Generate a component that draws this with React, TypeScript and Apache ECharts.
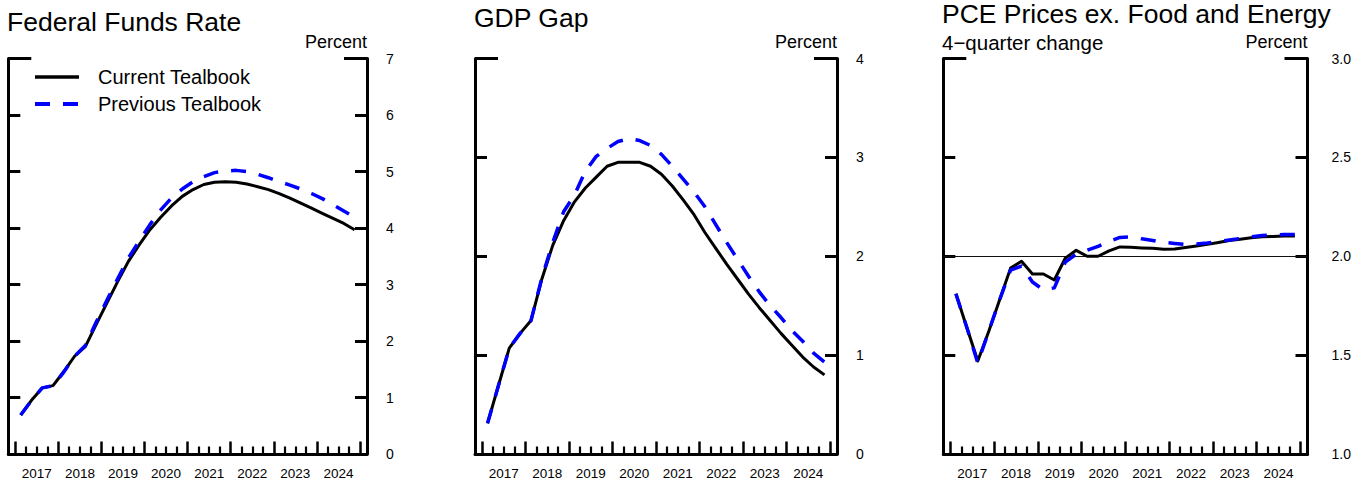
import { useEffect, useRef } from "react";
import * as echarts from "echarts";

// ---------- data ----------
const years = [2017, 2018, 2019, 2020, 2021, 2022, 2023, 2024];
const quarterLabels = years.flatMap((y) => ["Q1", "Q2", "Q3", "Q4"].map((q) => `${y}${q}`));

const ffrCurrent = [0.69, 0.95, 1.17, 1.21, 1.46, 1.73, 1.9, 2.29, 2.67, 3.05, 3.41, 3.7, 3.97, 4.19, 4.39, 4.56, 4.68, 4.77, 4.81, 4.82, 4.81, 4.78, 4.73, 4.68, 4.61, 4.53, 4.44, 4.35, 4.26, 4.17, 4.08, 3.97];
const ffrPrevious = [0.69, 0.95, 1.17, 1.21, 1.45, 1.73, 1.92, 2.33, 2.72, 3.1, 3.47, 3.77, 4.06, 4.32, 4.53, 4.69, 4.82, 4.91, 4.98, 5.01, 5.02, 5.0, 4.95, 4.89, 4.82, 4.76, 4.69, 4.61, 4.52, 4.41, 4.3, 4.19];

const gapCurrent = [0.31, 0.69, 1.07, 1.22, 1.35, 1.77, 2.11, 2.36, 2.55, 2.69, 2.8, 2.91, 2.95, 2.95, 2.95, 2.91, 2.83, 2.71, 2.57, 2.42, 2.24, 2.08, 1.92, 1.77, 1.62, 1.48, 1.35, 1.22, 1.1, 0.98, 0.88, 0.8];
const gapPrevious = [0.31, 0.69, 1.07, 1.22, 1.35, 1.78, 2.14, 2.45, 2.62, 2.86, 3.01, 3.09, 3.16, 3.19, 3.17, 3.12, 3.03, 2.91, 2.78, 2.65, 2.5, 2.32, 2.14, 1.97, 1.8, 1.64, 1.5, 1.38, 1.25, 1.14, 1.02, 0.93];

const pceCurrent = [1.81, 1.64, 1.47, 1.62, 1.78, 1.94, 1.975, 1.91, 1.91, 1.88, 1.99, 2.03, 2.0, 2.0, 2.027, 2.047, 2.045, 2.042, 2.04, 2.035, 2.037, 2.044, 2.052, 2.06, 2.07, 2.08, 2.086, 2.093, 2.098, 2.1, 2.103, 2.103];
const pcePrevious = [1.81, 1.64, 1.46, 1.62, 1.78, 1.93, 1.95, 1.87, 1.83, 1.84, 1.97, 2.01, 2.03, 2.05, 2.075, 2.095, 2.098, 2.088, 2.08, 2.07, 2.065, 2.06, 2.062, 2.067, 2.075, 2.082, 2.09, 2.098, 2.105, 2.108, 2.11, 2.11];

const pceReference = 2.0;

const titles = ["Federal Funds Rate", "GDP Gap", "PCE Prices ex. Food and Energy"];
const seriesNames = ["Current Tealbook", "Previous Tealbook"];

// ---------- helpers ----------
const FONT = "'Liberation Sans', Arial, Helvetica, sans-serif";
const quarterX = (label: string) => Number(label.slice(0, 4)) + (Number(label.slice(5)) - 0.5) / 4;
const toPairs = (vals: number[]) => quarterLabels.map((l, i) => [quarterX(l), vals[i]]);

const yearTicks = [...years, years[years.length - 1] + 1];
const quarterTicks = years.flatMap((y) => [0.25, 0.5, 0.75].map((f) => y + f));
const yearLabelPos = years.map((y) => y + 0.5);
const PAD = 0.163;

const GRID_TOP = 58.5;
const GRID_H = 395.5;

const panels = [
  { left: 8.3, width: 358.7, min: 0, max: 7, interval: 1, digits: 0, labelMargin: 19, cur: ffrCurrent, prev: ffrPrevious, titleX: 7, titleY: 22 },
  { left: 475, width: 362, min: 0, max: 4, interval: 1, digits: 0, labelMargin: 19, cur: gapCurrent, prev: gapPrevious, titleX: 474, titleY: 17.5 },
  { left: 943.3, width: 364.2, min: 1, max: 3, interval: 0.5, digits: 1, labelMargin: 24, cur: pceCurrent, prev: pcePrevious, titleX: 942, titleY: 13.5, ref: pceReference },
];

export default function App() {
  const ref = useRef<HTMLDivElement>(null);

  useEffect(() => {
    document.body.style.margin = "0";
    if (!ref.current) return;
    const chart = echarts.init(ref.current, null, { renderer: "svg" });

    const grid: any[] = [];
    const xAxis: any[] = [];
    const yAxis: any[] = [];
    const series: any[] = [];
    const graphic: any[] = [];
    const black = "#000";

    panels.forEach((p, k) => {
      grid.push({ left: p.left, top: GRID_TOP, width: p.width, height: GRID_H, containLabel: false });
      const xCommon = {
        type: "value",
        gridIndex: k,
        position: "bottom",
        min: years[0] - PAD,
        max: years[years.length - 1] + 1 + PAD,
        splitLine: { show: false },
      };
      // main x axis: frame bottom, year ticks, labels
      xAxis.push({
        ...xCommon,
        axisLine: { show: true, onZero: false, lineStyle: { color: black, width: 3 } },
        axisTick: { show: true, inside: true, length: 12.5, customValues: yearTicks, lineStyle: { color: black, width: 2.5 } },
        axisLabel: {
          show: true,
          customValues: yearLabelPos,
          formatter: (v: number) => String(Math.floor(v)),
          fontSize: 13.5,
          fontFamily: FONT,
          color: black,
          margin: 12,
        },
      });
      // minor quarter ticks
      xAxis.push({
        ...xCommon,
        axisLine: { show: false, onZero: false },
        axisTick: { show: true, inside: true, length: 7.5, customValues: quarterTicks, lineStyle: { color: black, width: 2.2 } },
        axisLabel: { show: false },
      });
      const common = {
        type: "value",
        gridIndex: k,
        min: p.min,
        max: p.max,
        splitLine: { show: false },
      };
      // left frame
      yAxis.push({
        ...common,
        position: "left",
        interval: p.interval,
        axisLine: { show: true, onZero: false, lineStyle: { color: black, width: 3 } },
        axisTick: { show: true, inside: true, length: 12, lineStyle: { color: black, width: 3 } },
        axisLabel: { show: false },
      });
      // right frame with labels
      yAxis.push({
        ...common,
        position: "right",
        interval: p.interval,
        name: "Percent",
        nameLocation: "end",
        nameGap: 17,
        nameTextStyle: { fontSize: 18, fontFamily: FONT, color: black, align: "right", verticalAlign: "middle" },
        axisLine: { show: true, onZero: false, lineStyle: { color: black, width: 3 } },
        axisTick: { show: true, inside: true, length: 12, lineStyle: { color: black, width: 3 } },
        axisLabel: {
          show: true,
          inside: false,
          margin: p.labelMargin,
          fontSize: 14,
          fontFamily: FONT,
          color: black,
          formatter: (v: number) => v.toFixed(p.digits),
        },
      });
      // longer top ticks (left & right)
      yAxis.push({
        ...common,
        position: "left",
        interval: p.max - p.min,
        axisLine: { show: false, onZero: false },
        axisTick: { show: true, inside: true, length: 23, lineStyle: { color: black, width: 3 } },
        axisLabel: { show: false },
      });
      yAxis.push({
        ...common,
        position: "right",
        interval: p.max - p.min,
        axisLine: { show: false, onZero: false },
        axisTick: { show: true, inside: true, length: 23, lineStyle: { color: black, width: 3 } },
        axisLabel: { show: false },
      });

      const cur: any = {
        name: seriesNames[0],
        type: "line",
        xAxisIndex: 2 * k,
        yAxisIndex: 4 * k,
        data: toPairs(p.cur),
        symbol: "none",
        showSymbol: false,
        lineStyle: { color: black, width: 3, join: "round" },
        itemStyle: { color: black, opacity: 0 },
        z: 3,
      };
      if ((p as any).ref !== undefined) {
        cur.markLine = {
          silent: true,
          symbol: ["none", "none"],
          label: { show: false },
          lineStyle: { color: "#111", width: 1, type: "solid", opacity: 1 },
          data: [{ yAxis: (p as any).ref }],
          z: 1,
        };
      }
      series.push(cur);
      series.push({
        name: seriesNames[1],
        type: "line",
        xAxisIndex: 2 * k,
        yAxisIndex: 4 * k,
        data: toPairs(p.prev),
        symbol: "none",
        showSymbol: false,
        lineStyle: { color: "#0000ff", width: 3.5, type: [15, 13], join: "round" },
        itemStyle: { color: "#0000ff", opacity: 0 },
        z: 4,
      });

      graphic.push({
        type: "text",
        x: p.titleX,
        y: p.titleY,
        style: { text: titles[k], fontSize: 26.5, fontFamily: FONT, fill: black, verticalAlign: "middle", align: "left" },
      });
    });

    graphic.push({
      type: "text",
      x: 942,
      y: 42,
      style: { text: "4\u2212quarter change", fontSize: 20.5, fontFamily: FONT, fill: black, verticalAlign: "middle", align: "left" },
    });

    chart.setOption({
      animation: false,
      backgroundColor: "#fff",
      textStyle: { fontFamily: FONT },
      grid,
      xAxis,
      yAxis,
      series,
      graphic,
      legend: {
        data: [
          { name: seriesNames[0], lineStyle: { width: 3.5 } },
          { name: seriesNames[1], lineStyle: { width: 4 } },
        ],
        orient: "vertical",
        left: 28,
        top: 62,
        itemWidth: 44,
        itemHeight: 14,
        itemGap: 7,
        selectedMode: false,
        itemStyle: { opacity: 0 },
        textStyle: { fontSize: 20, fontFamily: FONT, color: black, padding: [0, 0, 0, 14] },
      },
    });

    return () => chart.dispose();
  }, []);

  return <div ref={ref} style={{ width: 1368, height: 481 }} />;
}
